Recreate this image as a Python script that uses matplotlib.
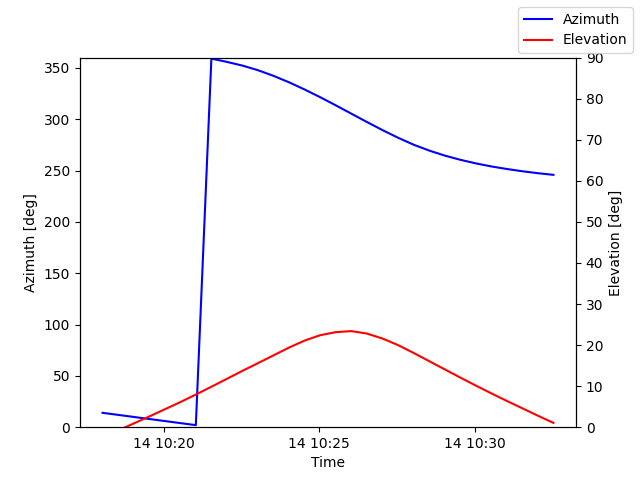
import numpy as np
import pandas as pd
import matplotlib
matplotlib.use('Agg')
import matplotlib.pyplot as plt

# Pass samples every 30 s
times = pd.date_range('2024-01-14 10:18:02', periods=30, freq='30s')

azimuth = [14, 12, 10, 8, 6, 4, 2,
           359, 355.8, 352.2, 347.7, 342.2, 335.9, 328.9, 321.4, 313.5, 305.4,
           297.3, 289.4, 282.0, 275.2, 269.5, 264.6, 260.5, 257.0, 254.0, 251.5,
           249.3, 247.4, 245.8]

elevation = [-2.5, -0.8, 0.9, 2.6, 4.35, 6.1, 7.95, 9.85, 11.78, 13.73, 15.6,
             17.5, 19.4, 21.1, 22.4, 23.15, 23.4, 22.8, 21.6, 20.0, 18.1, 16.1,
             14.1, 12.1, 10.15, 8.25, 6.4, 4.6, 2.8, 1.05]

fig, ax1 = plt.subplots(figsize=(6.4, 4.8), dpi=100)
ax1.plot(times, azimuth, color='blue', label='Azimuth')
ax1.set_ylim(0, 360)
ax1.set_xlabel('Time')
ax1.set_ylabel('Azimuth [deg]')

ax2 = ax1.twinx()
ax2.plot(times, elevation, color='red', label='Elevation')
ax2.set_ylim(0, 90)
ax2.set_ylabel('Elevation [deg]')

fig.legend(loc='upper right')
fig.savefig('out.png')
